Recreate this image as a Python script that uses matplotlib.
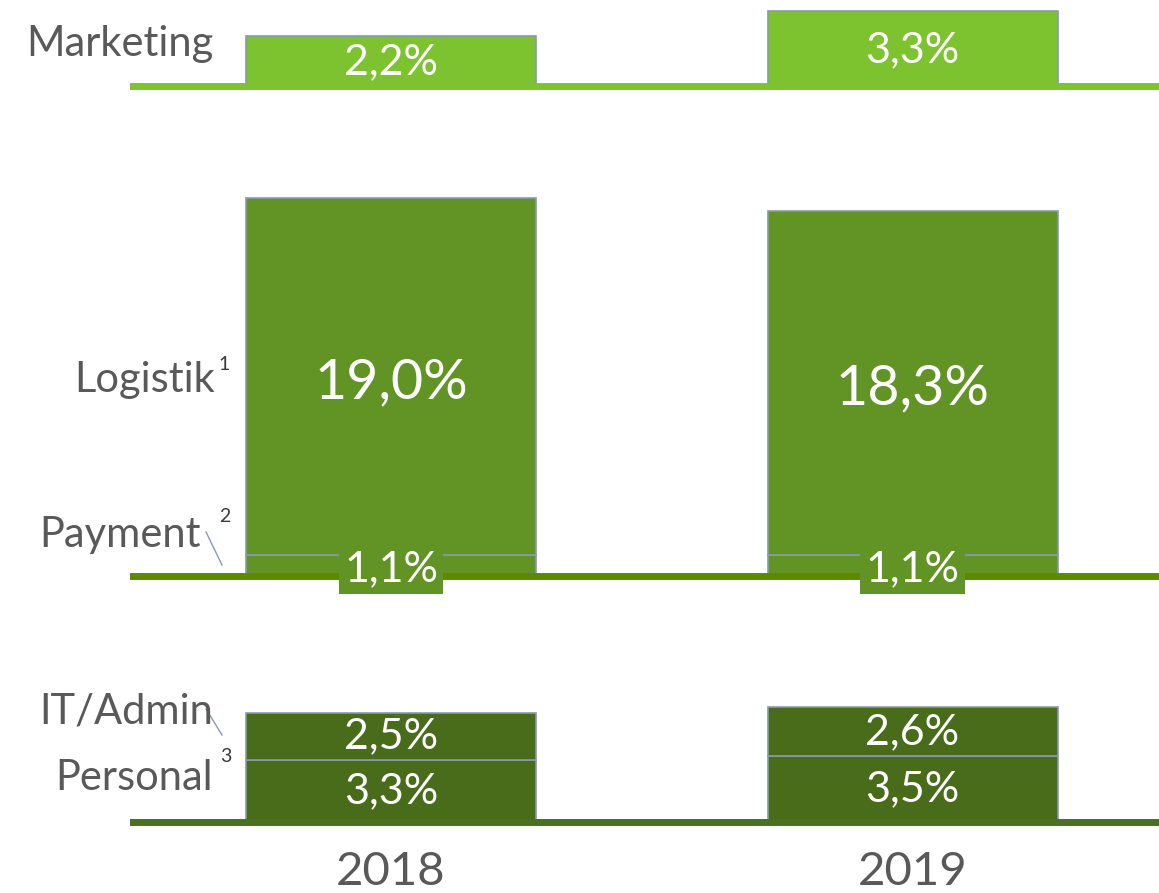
import matplotlib
matplotlib.use("Agg")
import matplotlib.pyplot as plt

plt.rcParams['font.family'] = ['Lato', 'DejaVu Sans']

years = ["2018", "2019"]
marketing = [2.2, 3.3]
payment = [1.1, 1.1]
logistik = [19.0, 18.3]
personal = [3.3, 3.5]
it_admin = [2.5, 2.6]

c_light = "#7dc22f"
c_mid = "#629325"
c_dark = "#486c19"
c_edge = "#8a9ab0"
c_text = "#595959"
c_sup = "#3a3a3a"

W, H = 1159, 893
fig = plt.figure(figsize=(W / 100, H / 100), dpi=100)

# x mapping: bar centres at px 391 and 912.5, axes from px 130 to 1159
xpx = 521.5
x0 = 391
xlim = ((130 - x0) / xpx, 1 + (1159 - 912.5) / xpx)
bw = 290 / xpx

LBL = 30
VAL = 31

def make_ax(base, scale, pad, toph):
    ax = fig.add_axes([130 / W, 1 - (base + pad) / H, 1029 / W, (pad + toph) / H])
    ax.set_xlim(*xlim)
    ax.set_ylim(-pad / scale, toph / scale)
    ax.axis("off")
    return ax

def px(base, scale, x, y):
    return (x - x0) / xpx, (base - y) / scale

xs = [0, 1]

def fmt(v):
    return f"{v:.1f}".replace(".", ",") + "%"

# --- Marketing panel
b1, s1 = 86, 22.6
ax1 = make_ax(b1, s1, 12, 86)
ax1.bar(xs, marketing, bw, color=c_light, edgecolor=c_edge, linewidth=1.2)
ax1.axhline(0, color="#7fc12e", lw=5, zorder=3)
for x, v in zip(xs, marketing):
    ax1.text(x, v / 2 - 0.05, fmt(v), color="white", fontsize=VAL, ha="center", va="center")
ax1.text(*px(b1, s1, 213, 44), "Marketing", color=c_text, fontsize=LBL, ha="right", va="center")

# --- Logistik / Payment panel
b2, s2 = 576, 18.8
ax2 = make_ax(b2, s2, 30, 400)
ax2.bar(xs, payment, bw, color=c_mid, edgecolor=c_edge, linewidth=1.2)
ax2.bar(xs, logistik, bw, bottom=payment, color=c_mid, edgecolor=c_edge, linewidth=1.2)
ax2.axhline(0, color="#5b8a00", lw=5, zorder=3)
for x, p, l in zip(xs, payment, logistik):
    ax2.text(x, p + l / 2 - 0.3, fmt(l), color="white", fontsize=40, ha="center", va="center")
    ax2.text(x, p / 2 - 0.2, fmt(p), color="white", fontsize=VAL, ha="center", va="center", zorder=5,
             bbox=dict(boxstyle="square,pad=0.12", fc=c_mid, ec="none"))
ax2.text(*px(b2, s2, 215, 380), "Logistik", color=c_text, fontsize=LBL, ha="right", va="center")
ax2.text(*px(b2, s2, 218, 365), "1", color=c_sup, fontsize=14, ha="left", va="center")
ax2.text(*px(b2, s2, 201, 535), "Payment", color=c_text, fontsize=LBL, ha="right", va="center")
ax2.text(*px(b2, s2, 219, 517), "2", color=c_sup, fontsize=14, ha="left", va="center")
p1 = px(b2, s2, 206, 532)
p2 = px(b2, s2, 222, 565)
ax2.plot([p1[0], p2[0]], [p1[1], p2[1]], color=c_edge, lw=1, clip_on=False)

# --- Personal / IT panel
b3, s3 = 822, 18.8
ax3 = make_ax(b3, s3, 12, 130)
ax3.bar(xs, personal, bw, color=c_dark, edgecolor=c_edge, linewidth=1.2)
ax3.bar(xs, it_admin, bw, bottom=personal, color=c_dark, edgecolor=c_edge, linewidth=1.2)
ax3.axhline(0, color="#4a7020", lw=5, zorder=3)
for x, p, i in zip(xs, personal, it_admin):
    ax3.text(x, p / 2, fmt(p), color="white", fontsize=VAL, ha="center", va="center")
    ax3.text(x, p + i / 2, fmt(i), color="white", fontsize=VAL, ha="center", va="center")
ax3.text(*px(b3, s3, 213, 711), "IT/Admin", color=c_text, fontsize=LBL, ha="right", va="center")
ax3.text(*px(b3, s3, 213, 778), "Personal", color=c_text, fontsize=LBL, ha="right", va="center")
ax3.text(*px(b3, s3, 220, 757), "3", color=c_sup, fontsize=14, ha="left", va="center")
p1 = px(b3, s3, 206, 709)
p2 = px(b3, s3, 222, 735)
ax3.plot([p1[0], p2[0]], [p1[1], p2[1]], color=c_edge, lw=1, clip_on=False)

for x, yr in zip(xs, years):
    ax3.text(x, (b3 - 872) / s3, yr, color=c_text, fontsize=34, ha="center", va="center", clip_on=False)

fig.savefig("out.png", dpi=100)
